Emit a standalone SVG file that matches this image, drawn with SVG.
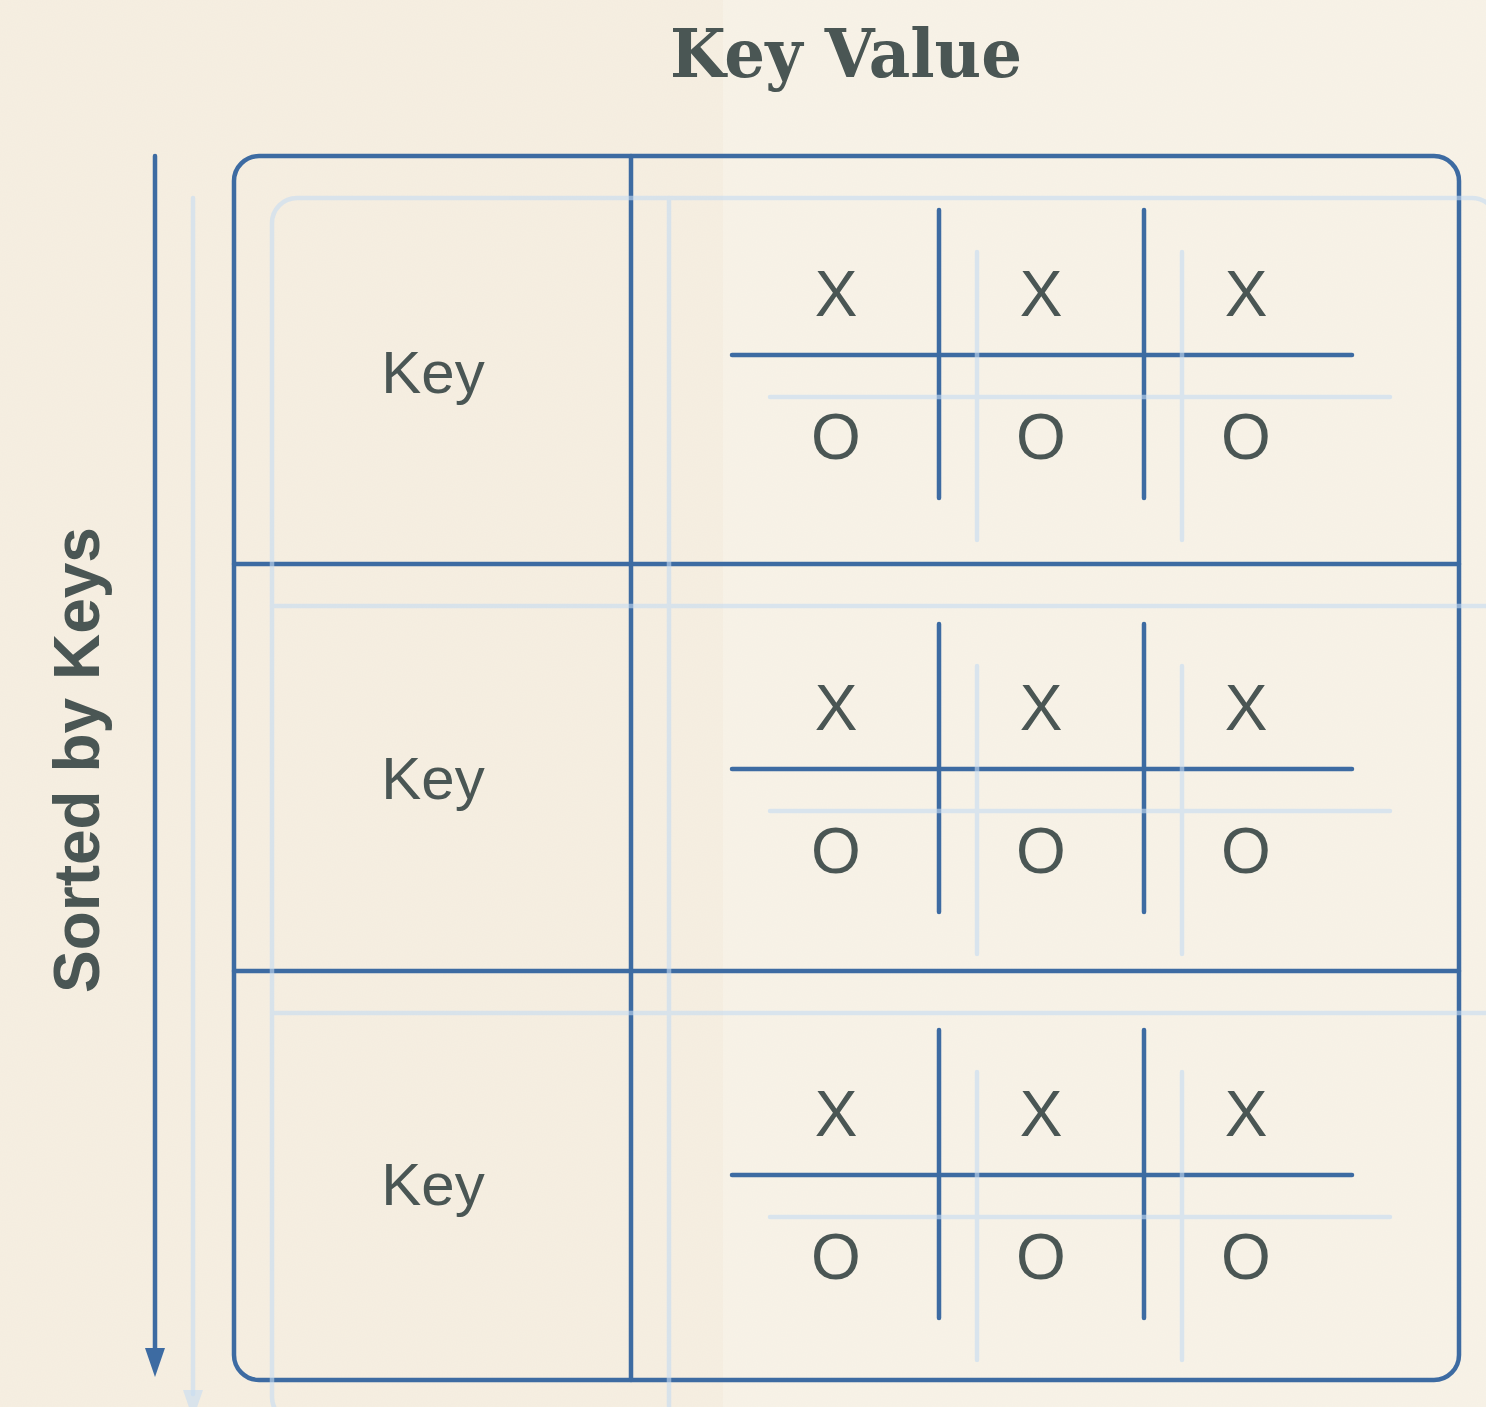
<svg xmlns="http://www.w3.org/2000/svg" width="1486" height="1407" viewBox="0 0 1486 1407">
  <defs>
    <style>
      .ink { stroke: #3d6ba2; stroke-width: 4.5; fill: none; stroke-linecap: round; }
      .ghost { stroke: #c6dcf2; stroke-width: 4.5; fill: none; stroke-linecap: round; opacity: 0.6; }
      .lbl { font-family: "Liberation Sans", Arial, sans-serif; fill: #4a5654; }
      .mark { font-size: 64px; text-anchor: middle; }
      .key { font-size: 60px; text-anchor: middle; }
    </style>
    <filter id="paper" x="0" y="0" width="100%" height="100%">
      <feTurbulence type="fractalNoise" baseFrequency="0.8" numOctaves="2" seed="7" result="n"/>
      <feColorMatrix in="n" type="matrix" values="0 0 0 0 0.80  0 0 0 0 0.72  0 0 0 0 0.60  0 0 0 0.06 0"/>
    </filter>
    <!-- one tic-tac-toe grid, origin at the crossing of its left vertical and horizontal -->
    <g id="grid">
      <line x1="0" y1="-145" x2="0" y2="143"/>
      <line x1="205" y1="-145" x2="205" y2="143"/>
      <line x1="-207" y1="0" x2="413" y2="0"/>
    </g>
  </defs>

  <!-- paper -->
  <rect x="0" y="0" width="1486" height="1407" fill="#f7f2e7"/>
  <rect x="0" y="0" width="723" height="1407" fill="#efe5cf" opacity="0.25"/>
  <rect x="0" y="0" width="1486" height="1407" filter="url(#paper)"/>

  <!-- headings -->
  <g id="title">
    <text x="846" y="77" font-family="'DejaVu Serif', 'Liberation Serif', serif" font-weight="bold" font-size="68" fill="#4a5654" text-anchor="middle" textLength="352" lengthAdjust="spacingAndGlyphs">Key Value</text>
  </g>
  <g id="side-label">
    <text class="lbl" transform="translate(99,760) rotate(-90)" font-size="64" font-weight="bold" text-anchor="middle">Sorted by Keys</text>
  </g>

  <!-- main table -->
  <g id="table" class="ink">
    <rect x="234" y="156" width="1225" height="1224" rx="25" ry="25"/>
    <line x1="631" y1="156" x2="631" y2="1380"/>
    <line x1="234" y1="564" x2="1459" y2="564"/>
    <line x1="234" y1="971" x2="1459" y2="971"/>
  </g>

  <!-- connectors -->
  <g id="connectors">
    <line class="ink" x1="155" y1="156" x2="155" y2="1352"/>
    <polygon points="145,1348 165,1348 155,1377" fill="#3d6ba2"/>
  </g>

  <!-- row 1 -->
  <g id="row1">
    <text class="lbl key" x="433" y="393">Key</text>
    <use href="#grid" class="ink" x="939" y="355"/>
    <text class="lbl mark" x="836" y="316">X</text>
    <text class="lbl mark" x="1041" y="316">X</text>
    <text class="lbl mark" x="1246" y="316">X</text>
    <text class="lbl mark" x="836" y="459">O</text>
    <text class="lbl mark" x="1041" y="459">O</text>
    <text class="lbl mark" x="1246" y="459">O</text>
  </g>

  <!-- row 2 -->
  <g id="row2">
    <text class="lbl key" x="433" y="799">Key</text>
    <use href="#grid" class="ink" x="939" y="769"/>
    <text class="lbl mark" x="836" y="730">X</text>
    <text class="lbl mark" x="1041" y="730">X</text>
    <text class="lbl mark" x="1246" y="730">X</text>
    <text class="lbl mark" x="836" y="873">O</text>
    <text class="lbl mark" x="1041" y="873">O</text>
    <text class="lbl mark" x="1246" y="873">O</text>
  </g>

  <!-- row 3 -->
  <g id="row3">
    <text class="lbl key" x="433" y="1205">Key</text>
    <use href="#grid" class="ink" x="939" y="1175"/>
    <text class="lbl mark" x="836" y="1136">X</text>
    <text class="lbl mark" x="1041" y="1136">X</text>
    <text class="lbl mark" x="1246" y="1136">X</text>
    <text class="lbl mark" x="836" y="1279">O</text>
    <text class="lbl mark" x="1041" y="1279">O</text>
    <text class="lbl mark" x="1246" y="1279">O</text>
  </g>

  <!-- faint offset echo of the line work -->
  <g id="echo" transform="translate(38,42)">
    <g class="ghost">
      <rect x="234" y="156" width="1225" height="1224" rx="25" ry="25"/>
      <line x1="631" y1="156" x2="631" y2="1380"/>
      <line x1="234" y1="564" x2="1459" y2="564"/>
      <line x1="234" y1="971" x2="1459" y2="971"/>
      <line x1="155" y1="156" x2="155" y2="1352"/>
      <use href="#grid" x="939" y="355"/>
      <use href="#grid" x="939" y="769"/>
      <use href="#grid" x="939" y="1175"/>
    </g>
    <polygon points="145,1348 165,1348 155,1377" fill="#c6dcf2" opacity="0.6"/>
  </g>
</svg>
